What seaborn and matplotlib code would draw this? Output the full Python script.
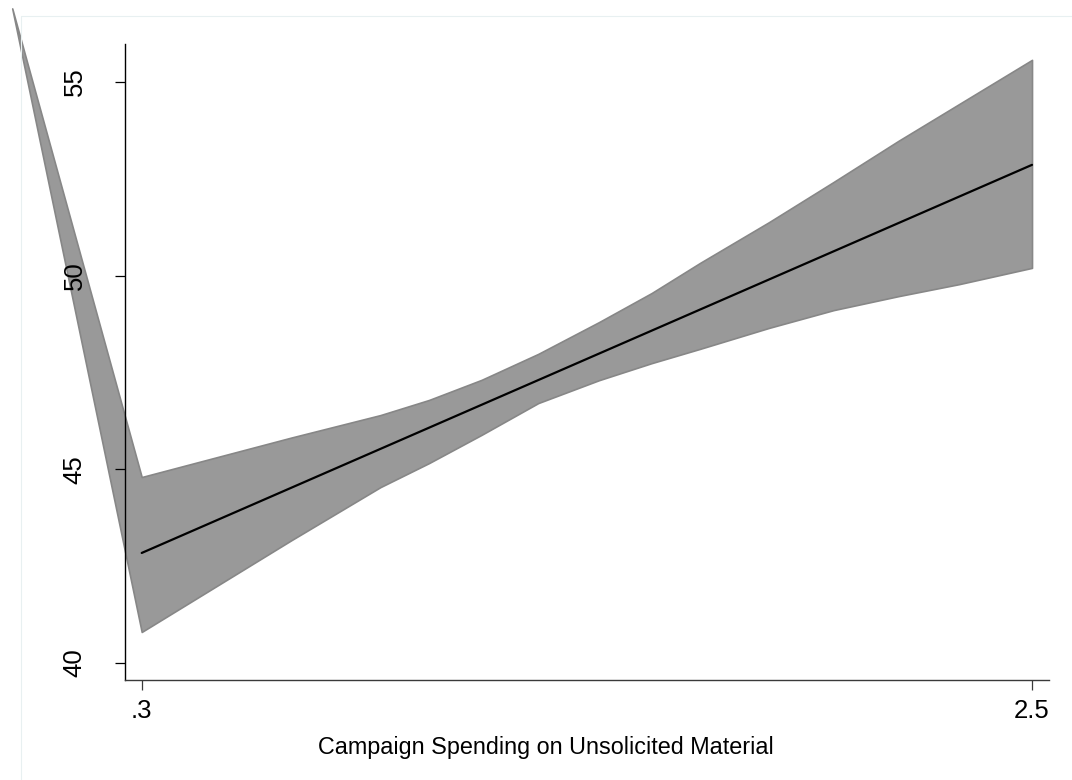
import matplotlib
matplotlib.use("Agg")
import matplotlib.pyplot as plt
from matplotlib.lines import Line2D
import seaborn as sns

# Fitted line and confidence band for the vote share model
fit_x = [0.3, 2.5]
fit_y = [42.84, 52.86]

band_x = [-0.02, 0.30, 0.67, 0.89, 1.01, 1.14, 1.28, 1.43, 1.56, 1.68, 1.85, 2.01, 2.17, 2.32, 2.50]
band_upper = [56.9, 44.80, 45.82, 46.40, 46.79, 47.31, 47.98, 48.80, 49.55, 50.33, 51.38, 52.42, 53.48, 54.43, 55.57]
band_lower = [56.9, 40.80, 43.17, 44.54, 45.16, 45.89, 46.71, 47.30, 47.74, 48.11, 48.65, 49.11, 49.47, 49.78, 50.20]

x_ticks = [0.3, 2.5]
x_tick_labels = [".3", "2.5"]
y_ticks = [40, 45, 50, 55]
y_tick_labels = ["40", "45", "50", "55"]
x_title = "Campaign Spending on Unsolicited Material"

sns.set_style("white")
plt.rcParams["font.family"] = ["Liberation Sans", "DejaVu Sans"]
plt.rcParams["axes.axisbelow"] = False

W, H = 1072, 780
fig = plt.figure(figsize=(W / 100, H / 100), dpi=100)
fig.patch.set_facecolor("white")

# faint graph-region outline
fig.add_artist(Line2D([20.5 / W, 20.5 / W], [0, 1 - 16 / H], transform=fig.transFigure,
                      color="#e8f0f1", lw=0.8))
fig.add_artist(Line2D([20.5 / W, 1], [1 - 16 / H, 1 - 16 / H], transform=fig.transFigure,
                      color="#e8f0f1", lw=0.8))

left, right, bottom, top = 125 / W, 1049 / W, 1 - 680 / H, 1 - 44 / H
ax = fig.add_axes([left, bottom, right - left, top - bottom])
ax.set_facecolor("white")
ax.set_axisbelow(False)

ax.fill_between(band_x, band_lower, band_upper, facecolor="#999999", edgecolor="#878787",
                linewidth=1.2, clip_on=False, zorder=1)
sns.lineplot(x=fit_x, y=fit_y, color="black", linewidth=1.6, ax=ax, zorder=3)

ax.set_xlim(0.2587, 2.542)
ax.set_ylim(39.56, 55.98)

for side in ("top", "right"):
    ax.spines[side].set_visible(False)
ax.spines["left"].set_color("black")
ax.spines["bottom"].set_color("#3a3a3a")
ax.spines["left"].set_linewidth(1.0)
ax.spines["bottom"].set_linewidth(1.0)

ax.set_xticks(x_ticks)
ax.set_xticklabels(x_tick_labels, fontsize=18.5)
ax.set_yticks(y_ticks)
ax.set_yticklabels(y_tick_labels, fontsize=18.5, rotation=90, va="center")

ax.tick_params(axis="x", direction="out", length=7.5, width=0.9, color="#3a3a3a", pad=6,
               bottom=True, labelcolor="black")
ax.tick_params(axis="y", direction="out", length=7.5, width=0.9, color="black", pad=20,
               left=True, labelcolor="black")

ax.set_xlabel(x_title, fontsize=16.8, color="black", va="top")
ax.xaxis.set_label_coords((546 - 125) / 924, (680 - 736) / 636)
ax.set_ylabel("")

fig.savefig("out.png", dpi=100, facecolor="white")
